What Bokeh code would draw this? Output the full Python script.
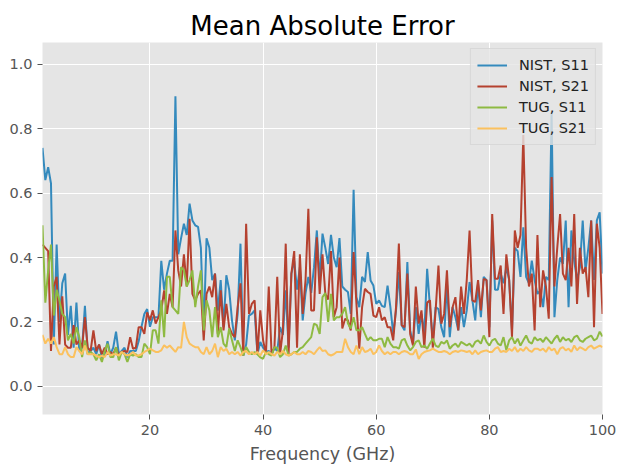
from bokeh.plotting import figure
from bokeh.models import FixedTicker, PrintfTickFormatter, Range1d
from bokeh.embed import file_html
from bokeh.resources import INLINE

# ---- data ----
nist_s11 = [
    0.74, 0.64, 0.68, 0.63, 0.13, 0.44, 0.20, 0.32, 0.35, 0.16, 0.25, 0.12, 0.26, 0.11, 0.12, 0.25, 0.10, 0.11, 0.12, 0.10, 0.13, 0.09, 0.10, 0.14, 0.10,
    0.12, 0.17, 0.10, 0.11, 0.12, 0.09, 0.11, 0.11, 0.11, 0.14, 0.185, 0.225, 0.24, 0.185, 0.215, 0.215, 0.215, 0.39, 0.30, 0.35, 0.39, 0.39, 0.90, 0.41, 0.46,
    0.505, 0.47, 0.567, 0.515, 0.50, 0.495, 0.43, 0.17, 0.46, 0.43, 0.33, 0.35, 0.235, 0.33, 0.185, 0.345, 0.30, 0.205, 0.143, 0.225, 0.443, 0.096, 0.13, 0.22, 0.225,
    0.236, 0.10, 0.138, 0.12, 0.107, 0.11, 0.10, 0.12, 0.11, 0.184, 0.16, 0.298, 0.12, 0.35, 0.39, 0.30, 0.37, 0.205, 0.29, 0.34, 0.29, 0.37, 0.484, 0.329, 0.474,
    0.43, 0.38, 0.47, 0.40, 0.37, 0.46, 0.31, 0.30, 0.293, 0.225, 0.61, 0.277, 0.246, 0.34, 0.324, 0.417, 0.329, 0.313, 0.256, 0.267, 0.25, 0.246, 0.313, 0.246, 0.163,
    0.236, 0.355, 0.19, 0.174, 0.386, 0.174, 0.133, 0.246, 0.163, 0.225, 0.163, 0.365, 0.246, 0.143, 0.246, 0.24, 0.184, 0.153, 0.32, 0.153, 0.246, 0.215, 0.174, 0.246, 0.184,
    0.236, 0.324, 0.267, 0.205, 0.32, 0.215, 0.34, 0.33, 0.184, 0.515, 0.30, 0.30, 0.35, 0.32, 0.37, 0.33, 0.174, 0.43, 0.42, 0.34, 0.494, 0.34, 0.32, 0.39, 0.33,
    0.287, 0.298, 0.246, 0.34, 0.33, 0.85, 0.215, 0.33, 0.40, 0.38, 0.515, 0.246, 0.484, 0.39, 0.33, 0.37, 0.515, 0.36, 0.43, 0.515, 0.33, 0.515, 0.54, 0.35,
]
nist_s21 = [
    0.44, 0.43, 0.42, 0.11, 0.31, 0.34, 0.13, 0.28, 0.13, 0.12, 0.12, 0.19, 0.13, 0.143, 0.12, 0.215, 0.12, 0.11, 0.174, 0.11, 0.13, 0.10, 0.12, 0.10, 0.107,
    0.10, 0.12, 0.096, 0.107, 0.11, 0.107, 0.153, 0.117, 0.12, 0.184, 0.184, 0.163, 0.23, 0.205, 0.236, 0.195, 0.215, 0.236, 0.298, 0.225, 0.287, 0.246, 0.484, 0.36, 0.31,
    0.41, 0.31, 0.52, 0.287, 0.267, 0.287, 0.298, 0.143, 0.287, 0.31, 0.277, 0.35, 0.163, 0.298, 0.174, 0.256, 0.184, 0.163, 0.153, 0.246, 0.32, 0.096, 0.505, 0.225, 0.256,
    0.267, 0.10, 0.236, 0.143, 0.10, 0.31, 0.10, 0.12, 0.34, 0.10, 0.174, 0.443, 0.10, 0.35, 0.42, 0.12, 0.41, 0.225, 0.33, 0.551, 0.236, 0.236, 0.463, 0.287, 0.41,
    0.287, 0.27, 0.42, 0.215, 0.246, 0.40, 0.18, 0.21, 0.205, 0.174, 0.417, 0.256, 0.117, 0.246, 0.303, 0.293, 0.287, 0.22, 0.215, 0.246, 0.205, 0.215, 0.184, 0.184, 0.143,
    0.246, 0.443, 0.19, 0.184, 0.35, 0.163, 0.127, 0.31, 0.195, 0.236, 0.12, 0.26, 0.267, 0.12, 0.236, 0.375, 0.195, 0.225, 0.36, 0.184, 0.246, 0.277, 0.174, 0.31, 0.225,
    0.33, 0.484, 0.267, 0.262, 0.33, 0.236, 0.334, 0.33, 0.153, 0.535, 0.334, 0.334, 0.375, 0.225, 0.41, 0.33, 0.153, 0.484, 0.43, 0.47, 0.78, 0.43, 0.31, 0.35, 0.174,
    0.47, 0.246, 0.36, 0.31, 0.21, 0.65, 0.31, 0.43, 0.535, 0.35, 0.33, 0.43, 0.31, 0.535, 0.256, 0.43, 0.35, 0.37, 0.277, 0.515, 0.184, 0.505, 0.43, 0.225,
]
tug_s11 = [
    0.50, 0.26, 0.36, 0.44, 0.22, 0.30, 0.267, 0.225, 0.215, 0.143, 0.163, 0.133, 0.184, 0.153, 0.091, 0.143, 0.10, 0.107, 0.10, 0.081, 0.10, 0.076, 0.11, 0.133, 0.091,
    0.091, 0.122, 0.081, 0.107, 0.10, 0.076, 0.10, 0.096, 0.10, 0.091, 0.091, 0.133, 0.122, 0.10, 0.174, 0.174, 0.133, 0.267, 0.153, 0.34, 0.34, 0.246, 0.236, 0.225, 0.37,
    0.36, 0.31, 0.33, 0.36, 0.246, 0.31, 0.36, 0.174, 0.267, 0.236, 0.153, 0.246, 0.153, 0.184, 0.133, 0.122, 0.18, 0.143, 0.11, 0.143, 0.122, 0.096, 0.122, 0.107, 0.10,
    0.107, 0.10, 0.09, 0.086, 0.107, 0.10, 0.096, 0.122, 0.12, 0.091, 0.10, 0.127, 0.096, 0.10, 0.107, 0.107, 0.117, 0.122, 0.133, 0.143, 0.153, 0.195, 0.19, 0.163, 0.277,
    0.29, 0.20, 0.287, 0.205, 0.215, 0.215, 0.225, 0.246, 0.195, 0.18, 0.215, 0.174, 0.174, 0.184, 0.163, 0.143, 0.153, 0.143, 0.143, 0.148, 0.148, 0.122, 0.153, 0.133, 0.122,
    0.122, 0.117, 0.143, 0.148, 0.127, 0.112, 0.122, 0.138, 0.143, 0.122, 0.127, 0.117, 0.133, 0.148, 0.127, 0.122, 0.138, 0.133, 0.143, 0.117, 0.127, 0.133, 0.122, 0.138, 0.133,
    0.127, 0.133, 0.122, 0.138, 0.143, 0.133, 0.158, 0.138, 0.127, 0.143, 0.148, 0.133, 0.127, 0.153, 0.112, 0.143, 0.153, 0.133, 0.148, 0.127, 0.143, 0.158, 0.138, 0.133, 0.153,
    0.143, 0.148, 0.138, 0.153, 0.143, 0.133, 0.148, 0.158, 0.138, 0.153, 0.143, 0.148, 0.138, 0.153, 0.158, 0.143, 0.138, 0.148, 0.153, 0.158, 0.143, 0.148, 0.17, 0.155,
]
tug_s21 = [
    0.16, 0.133, 0.148, 0.133, 0.153, 0.122, 0.10, 0.10, 0.122, 0.10, 0.091, 0.091, 0.122, 0.11, 0.10, 0.127, 0.10, 0.10, 0.10, 0.096, 0.091, 0.096, 0.091, 0.107, 0.096,
    0.10, 0.10, 0.096, 0.107, 0.10, 0.096, 0.10, 0.107, 0.096, 0.096, 0.10, 0.107, 0.112, 0.117, 0.112, 0.107, 0.107, 0.112, 0.128, 0.12, 0.127, 0.117, 0.107, 0.122, 0.12,
    0.20, 0.153, 0.133, 0.127, 0.122, 0.122, 0.107, 0.10, 0.122, 0.10, 0.11, 0.133, 0.091, 0.122, 0.11, 0.117, 0.10, 0.107, 0.10, 0.107, 0.096, 0.107, 0.11, 0.10, 0.107,
    0.10, 0.107, 0.096, 0.112, 0.10, 0.107, 0.10, 0.096, 0.107, 0.10, 0.11, 0.10, 0.096, 0.10, 0.107, 0.10, 0.10, 0.107, 0.10, 0.11, 0.107, 0.10, 0.112, 0.122, 0.11,
    0.112, 0.10, 0.096, 0.10, 0.107, 0.107, 0.107, 0.148, 0.122, 0.107, 0.10, 0.127, 0.10, 0.122, 0.107, 0.11, 0.117, 0.10, 0.107, 0.127, 0.11, 0.10, 0.107, 0.10, 0.107,
    0.107, 0.10, 0.107, 0.11, 0.107, 0.10, 0.10, 0.115, 0.085, 0.10, 0.107, 0.11, 0.112, 0.117, 0.112, 0.107, 0.107, 0.11, 0.107, 0.10, 0.107, 0.11, 0.107, 0.112, 0.11,
    0.107, 0.11, 0.10, 0.112, 0.10, 0.107, 0.11, 0.112, 0.107, 0.107, 0.117, 0.122, 0.107, 0.11, 0.107, 0.117, 0.11, 0.122, 0.107, 0.117, 0.11, 0.122, 0.112, 0.107, 0.117,
    0.117, 0.112, 0.117, 0.107, 0.122, 0.112, 0.117, 0.10, 0.117, 0.122, 0.112, 0.117, 0.107, 0.127, 0.112, 0.122, 0.117, 0.112, 0.122, 0.127, 0.117, 0.122, 0.127, 0.122,
]
series_labels = ["NIST, S11", "NIST, S21", "TUG, S11", "TUG, S21"]
series_colors = ["#348ABD", "#B5412F", "#8EBA42", "#FBC15E"]
x_ticks = [20, 40, 60, 80, 100]
y_ticks = [0.0, 0.2, 0.4, 0.6, 0.8, 1.0]

n = len(nist_s11)
freq = [1 + 0.5 * i for i in range(n)]

FONT = "DejaVu Sans"

p = figure(width=629, height=473, output_backend="svg", toolbar_location=None,
           x_range=Range1d(1, 100), y_range=Range1d(-0.087, 1.067),
           title="Mean Absolute Error")
p.min_border_left = 42
p.min_border_right = 27
p.min_border_top = 42
p.min_border_bottom = 59

p.background_fill_color = "#E5E5E5"
p.border_fill_color = "white"
p.outline_line_color = None

p.title.text_font = FONT
p.title.text_font_size = "26px"
p.title.text_font_style = "normal"
p.title.text_color = "black"
p.title.align = "center"
p.title.standoff = 3

for ax in (p.xaxis[0], p.yaxis[0]):
    ax.axis_line_color = None
    ax.major_tick_line_color = "#555555"
    ax.major_tick_out = 5
    ax.major_tick_in = 0
    ax.minor_tick_line_color = None
    ax.major_label_text_font = FONT
    ax.major_label_text_font_size = "14.5px"
    ax.major_label_text_color = "#555555"
    ax.major_label_standoff = 5

p.xaxis.ticker = FixedTicker(ticks=x_ticks)
p.yaxis.ticker = FixedTicker(ticks=y_ticks)
p.yaxis.formatter = PrintfTickFormatter(format="%.1f")
p.xaxis.axis_label = "Frequency (GHz)"
p.xaxis.axis_label_text_font = FONT
p.xaxis.axis_label_text_font_size = "17.5px"
p.xaxis.axis_label_text_font_style = "normal"
p.xaxis.axis_label_text_color = "#555555"
p.xaxis.axis_label_standoff = 6

p.grid.grid_line_color = "white"
p.grid.grid_line_width = 1

for vals, lab, col in zip([nist_s11, nist_s21, tug_s11, tug_s21], series_labels, series_colors):
    p.line(freq, vals, line_color=col, line_width=2, legend_label=lab)

lg = p.legend[0]
lg.location = "top_right"
lg.margin = 6
lg.padding = 6
lg.spacing = 1
lg.glyph_width = 30
lg.glyph_height = 20
lg.label_height = 20
lg.label_standoff = 12
lg.label_text_font = FONT
lg.label_text_font_size = "14.5px"
lg.label_text_color = "#222222"
lg.background_fill_color = "#E5E5E5"
lg.background_fill_alpha = 0.8
lg.border_line_color = "#CCCCCC"
lg.border_line_width = 1

open("out.html", "w").write(file_html(p, INLINE))
